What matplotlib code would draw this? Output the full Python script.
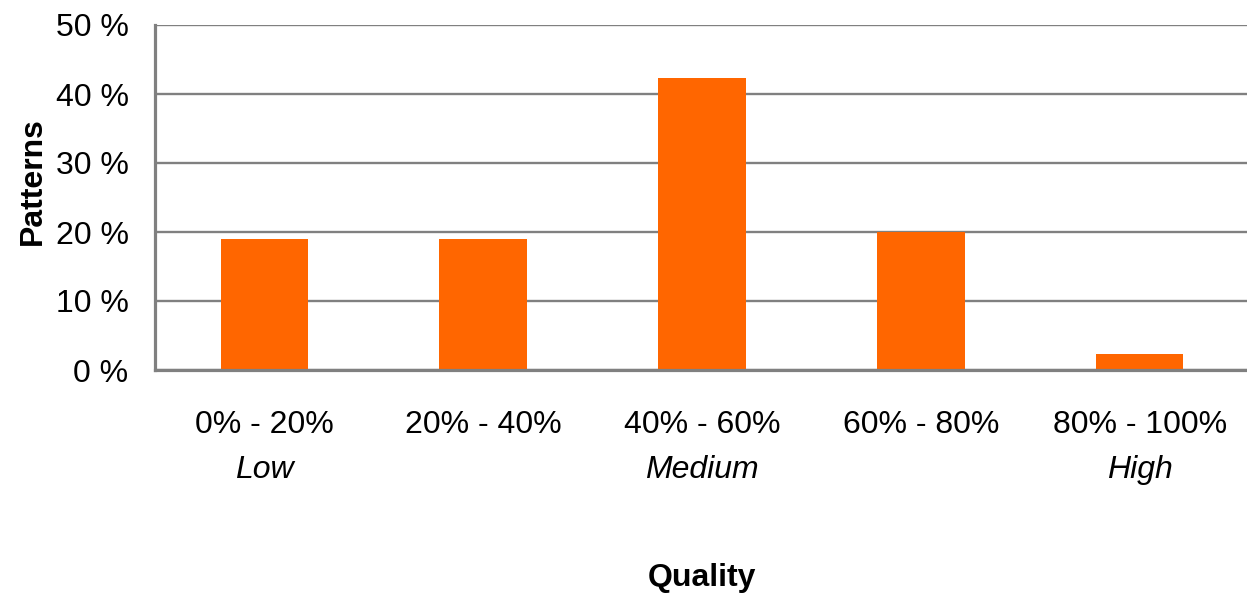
import matplotlib
matplotlib.use("Agg")
import matplotlib.pyplot as plt
from matplotlib.ticker import FuncFormatter

categories = ["0% - 20%", "20% - 40%", "40% - 60%", "60% - 80%", "80% - 100%"]
sublabels = ["Low", "", "Medium", "", "High"]
values = [19.0, 19.0, 42.3, 20.0, 2.3]
yticks = [0, 10, 20, 30, 40, 50]

plt.rcParams['font.family'] = ['Liberation Sans', 'DejaVu Sans']

W, H = 1247, 593
fig = plt.figure(figsize=(W / 100, H / 100), dpi=100)
left, right, top, bottom = 155, 1249, 25, 370
ax = fig.add_axes([left / W, 1 - bottom / H, (right - left) / W, (bottom - top) / H])

x = list(range(len(categories)))
ax.bar(x, values, width=0.40, color="#FF6600", zorder=3)

ax.set_xlim(-0.5, len(categories) - 0.5)
ax.set_ylim(0, 50)
ax.set_yticks(yticks)
ax.yaxis.set_major_formatter(FuncFormatter(lambda v, p: f"{int(v)} %"))
ax.set_xticks(x)
ax.set_xticklabels(categories)

ax.grid(axis="y", color="#808080", linewidth=1.7, zorder=1)
ax.set_axisbelow(True)
for s in ["top", "right"]:
    ax.spines[s].set_visible(False)
for s in ["left", "bottom"]:
    ax.spines[s].set_color("#808080")
    ax.spines[s].set_linewidth(2.3)
    ax.spines[s].set_zorder(4)

ax.tick_params(axis="both", length=0, labelsize=23, colors="black")
ax.tick_params(axis="y", pad=19)
ax.tick_params(axis="x", pad=29)

for xi, sub in zip(x, sublabels):
    if sub:
        ax.annotate(sub, xy=(xi, 0), xycoords=("data", "axes fraction"),
                    xytext=(0, -100 * 0.72), textcoords="offset points",
                    ha="center", va="center", fontsize=23, style="italic")

ax.set_ylabel("Patterns", fontsize=23, fontweight="bold", va="center")
ax.yaxis.set_label_coords((33 - left) / (right - left), (bottom - 181) / (bottom - top))
ax.set_xlabel("Quality", fontsize=23, fontweight="bold", va="center")
ax.xaxis.set_label_coords(0.5, (bottom - 578) / (bottom - top))

fig.savefig("out.png", dpi=100)
